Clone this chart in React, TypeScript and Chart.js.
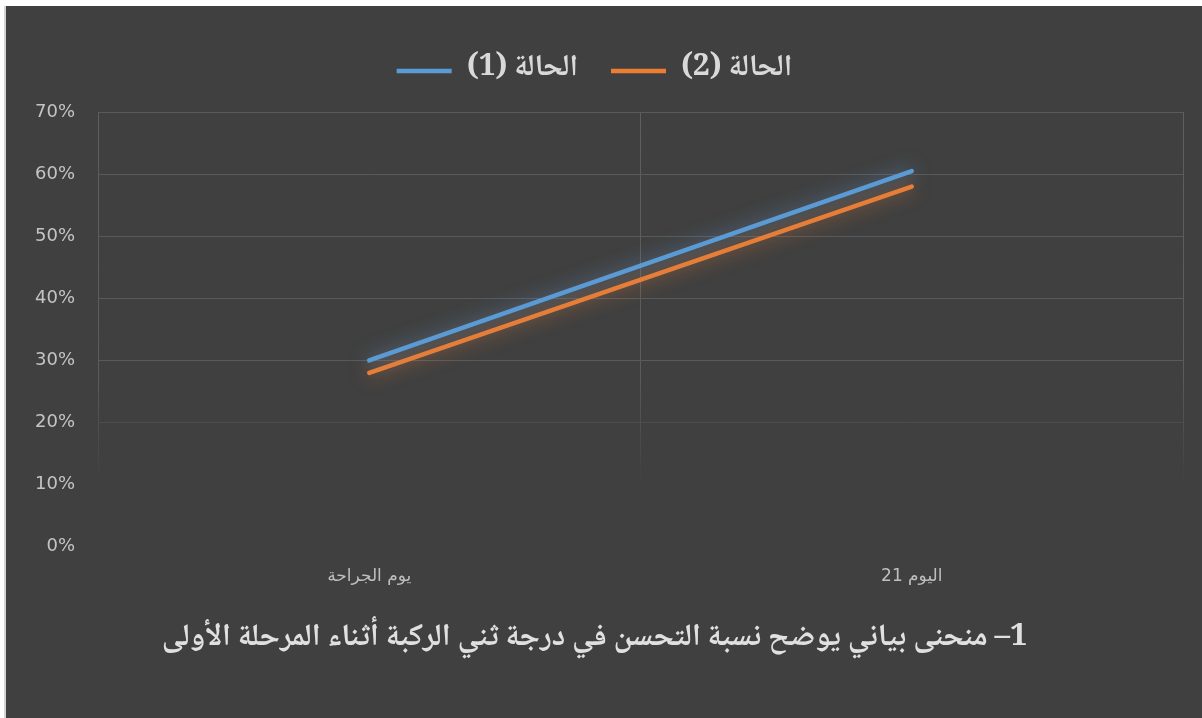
import React, { useEffect, useRef } from 'react';
import { Chart, registerables } from 'chart.js';

Chart.register(...registerables);

// ---- data ----
const categories = ['يوم الجراحة', 'اليوم 21'];
const case1Label = 'الحالة (1)';
const case2Label = 'الحالة (2)';
const case1Values = [0.30, 0.605];
const case2Values = [0.28, 0.58];
const yMin = 0;
const yMax = 0.7;
const yStep = 0.1;
const captionText = '1– منحنى بياني يوضح نسبة التحسن في درجة ثني الركبة أثناء المرحلة الأولى';

const BLUE = '#5B9BD5';
const ORANGE = '#ED7D31';
const ARABIC_SERIF = '"Noto Naskh Arabic", "Amiri", "Liberation Serif", "DejaVu Sans", serif';
const SANS = '"DejaVu Sans", "Liberation Sans", sans-serif';

const glowPlugin = {
  id: 'glow',
  beforeDatasetDraw(chart: any, args: any) {
    const ds = chart.data.datasets[args.index];
    const ctx = chart.ctx;
    ctx.save();
    ctx.shadowColor = ds.glowColor || 'transparent';
    ctx.shadowBlur = 18;
  },
  afterDatasetDraw(chart: any) {
    chart.ctx.restore();
  },
};

export default function App() {
  const ref = useRef<HTMLCanvasElement | null>(null);

  useEffect(() => {
    document.body.style.margin = '0';
    const canvas = ref.current;
    if (!canvas) return;

    const xGridColor = (c: any) => {
      const chart = c.chart;
      const area = chart.chartArea;
      if (!area) return '#5a5a5a';
      const g = chart.ctx.createLinearGradient(0, area.top, 0, area.bottom);
      g.addColorStop(0, 'rgba(95,95,95,1)');
      g.addColorStop(0.6, 'rgba(95,95,95,0.9)');
      g.addColorStop(0.86, 'rgba(95,95,95,0)');
      g.addColorStop(1, 'rgba(95,95,95,0)');
      return g;
    };

    const yGridColor = (c: any) => {
      const v = c.tick ? c.tick.value : 0;
      if (v >= 0.25) return '#5a5a5a';
      if (v >= 0.15) return '#4c4c4c';
      return 'rgba(0,0,0,0)';
    };

    const chart = new Chart(canvas, {
      type: 'line',
      data: {
        labels: categories,
        datasets: [
          {
            label: case1Label,
            data: case1Values,
            borderColor: BLUE,
            backgroundColor: BLUE,
            borderWidth: 4.5,
            borderCapStyle: 'round',
            pointRadius: 0,
            pointHoverRadius: 0,
            tension: 0,
            glowColor: 'rgba(91,155,213,0.7)',
          } as any,
          {
            label: case2Label,
            data: case2Values,
            borderColor: ORANGE,
            backgroundColor: ORANGE,
            borderWidth: 4.5,
            borderCapStyle: 'round',
            pointRadius: 0,
            pointHoverRadius: 0,
            tension: 0,
            glowColor: 'rgba(237,125,49,0.7)',
          } as any,
        ],
      },
      options: {
        animation: false,
        responsive: false,
        devicePixelRatio: 1,
        layout: { padding: { top: 17, right: 19, bottom: 58, left: 0 } },
        scales: {
          x: {
            type: 'category',
            position: 'bottom',
            offset: true,
            grid: { display: true, offset: true, drawTicks: false, color: xGridColor, lineWidth: 1 },
            border: { display: false },
            ticks: {
              color: '#bfbfbf',
              font: { family: SANS, size: 17 },
              padding: 20,
              maxRotation: 0,
            },
            afterFit(s: any) {
              s.height = 76;
            },
          },
          xTop: {
            type: 'category',
            position: 'top',
            display: true,
            grid: { display: false, drawTicks: false },
            border: { display: false },
            ticks: { display: false },
            afterFit(s: any) {
              s.height = 16;
            },
          },
          y: {
            min: yMin,
            max: yMax,
            grid: { color: yGridColor, drawTicks: false, lineWidth: 1 },
            border: { display: false },
            ticks: {
              stepSize: yStep,
              color: '#c4c4c4',
              font: { family: SANS, size: 18 },
              padding: 23,
              callback: (v: any) => Math.round(Number(v) * 100) + '%',
            },
            afterFit(s: any) {
              s.width = 92;
            },
          },
        },
        plugins: {
          legend: {
            display: true,
            position: 'top',
            labels: {
              usePointStyle: true,
              pointStyle: 'line',
              pointStyleWidth: 55,
              color: '#d9d9d9',
              padding: 33,
              font: { family: ARABIC_SERIF, size: 30, weight: 'bold' },
            },
          },
          title: {
            display: true,
            position: 'bottom',
            text: captionText,
            color: '#e0e0e0',
            font: { family: ARABIC_SERIF, size: 31, weight: 'bold', lineHeight: 1.2 },
            padding: { top: 0, bottom: 0 },
          },
          tooltip: { enabled: false },
        },
      } as any,
      plugins: [glowPlugin],
    });

    return () => {
      chart.destroy();
    };
  }, []);

  return (
    <div
      style={{
        position: 'absolute',
        left: 4,
        top: 6,
        width: 1196,
        height: 712,
        borderLeft: '2px solid #d4d4d4',
        background: '#404040',
      }}
    >
      <canvas
        ref={ref}
        width={1196}
        height={712}
        dir="rtl"
        style={{ display: 'block', width: 1196, height: 712, direction: 'rtl' }}
      />
    </div>
  );
}
